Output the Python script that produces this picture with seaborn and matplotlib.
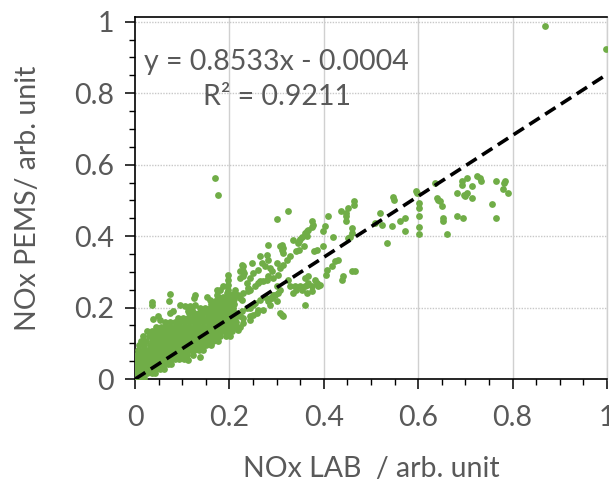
import matplotlib
matplotlib.use("Agg")
import matplotlib.pyplot as plt
from matplotlib.ticker import MultipleLocator
import seaborn as sns
import pandas as pd

# ---- data -------------------------------------------------------------
fit_slope = 0.8533
fit_intercept = -0.0004
fit_x = [0.0, 1.0]

tick_values = [0, 0.2, 0.4, 0.6, 0.8, 1.0]
tick_labels = ["0", "0.2", "0.4", "0.6", "0.8", "1"]

# dense cluster near the origin, read row by row
cluster_row_y = [0.004, 0.016, 0.029, 0.042, 0.055, 0.068, 0.081, 0.094, 0.107,
                 0.120, 0.133, 0.146, 0.159, 0.172, 0.185, 0.198, 0.211, 0.224, 0.237]
cluster_row_x = [
    [0.002, 0.011, 0.019],
    [0.000, 0.008, 0.017, 0.026, 0.035, 0.042],
    [0.003, 0.013, 0.023, 0.033, 0.043, 0.053, 0.061],
    [0.000, 0.009, 0.019, 0.029, 0.039, 0.049, 0.059, 0.069, 0.077],
    [0.004, 0.014, 0.024, 0.034, 0.044, 0.054, 0.064, 0.074, 0.084, 0.094, 0.103],
    [0.002, 0.011, 0.021, 0.031, 0.041, 0.051, 0.061, 0.071, 0.081, 0.091, 0.101, 0.111, 0.122],
    [0.006, 0.016, 0.026, 0.036, 0.046, 0.056, 0.066, 0.076, 0.086, 0.096, 0.106, 0.116, 0.126, 0.136, 0.145],
    [0.008, 0.020, 0.031, 0.041, 0.051, 0.061, 0.071, 0.081, 0.091, 0.101, 0.111, 0.121, 0.131, 0.141, 0.151, 0.161],
    [0.012, 0.024, 0.036, 0.046, 0.056, 0.066, 0.076, 0.086, 0.096, 0.106, 0.116, 0.126, 0.136, 0.146, 0.156, 0.166, 0.176],
    [0.017, 0.029, 0.041, 0.051, 0.061, 0.071, 0.081, 0.091, 0.101, 0.111, 0.121, 0.131, 0.141, 0.151, 0.161, 0.171, 0.181, 0.192, 0.201],
    [0.026, 0.036, 0.046, 0.056, 0.066, 0.076, 0.086, 0.096, 0.106, 0.116, 0.126, 0.136, 0.146, 0.156, 0.166, 0.176, 0.186, 0.196, 0.206],
    [0.045, 0.055, 0.065, 0.075, 0.085, 0.095, 0.105, 0.115, 0.125, 0.135, 0.145, 0.155, 0.165, 0.175, 0.185, 0.195, 0.205],
    [0.064, 0.074, 0.084, 0.094, 0.104, 0.114, 0.124, 0.134, 0.144, 0.154, 0.164, 0.174, 0.184, 0.194, 0.204, 0.213],
    [0.092, 0.102, 0.112, 0.122, 0.132, 0.142, 0.152, 0.162, 0.172, 0.182, 0.192, 0.202, 0.212],
    [0.115, 0.125, 0.135, 0.145, 0.155, 0.165, 0.175, 0.185, 0.195, 0.205, 0.214],
    [0.138, 0.148, 0.158, 0.168, 0.178, 0.188, 0.198, 0.208],
    [0.160, 0.170, 0.180, 0.190, 0.200, 0.210],
    [0.180, 0.190, 0.200, 0.210],
    [0.198, 0.208],
]

# individual scattered points
pts_x = [0.868, 0.997, 0.170, 0.175,
         0.074, 0.071, 0.035, 0.037, 0.095, 0.106, 0.127, 0.124, 0.049, 0.053, 0.039,
         0.074, 0.081, 0.117, 0.120, 0.113, 0.174, 0.174, 0.152, 0.159, 0.187, 0.194,
         0.127, 0.117,
         0.325, 0.300, 0.465, 0.465, 0.452, 0.436, 0.448, 0.448, 0.408, 0.403, 0.399,
         0.376, 0.376, 0.365, 0.364, 0.353, 0.350, 0.347, 0.335,
         0.459, 0.459, 0.456, 0.420, 0.398, 0.385, 0.380, 0.357, 0.348, 0.342,
         0.307, 0.311, 0.314, 0.328, 0.321, 0.314, 0.282,
         0.279, 0.282, 0.275, 0.286, 0.290, 0.282, 0.293, 0.304, 0.307, 0.300,
         0.265, 0.268, 0.261, 0.251, 0.244, 0.237, 0.247, 0.228, 0.229, 0.229, 0.222,
         0.198, 0.198, 0.198, 0.198, 0.212, 0.215, 0.222, 0.208, 0.176, 0.169,
         0.244, 0.254, 0.261, 0.272, 0.300, 0.307, 0.297, 0.290, 0.282,
         0.328, 0.335, 0.342, 0.350, 0.364, 0.374, 0.385, 0.392,
         0.367, 0.360, 0.405, 0.441, 0.438, 0.459, 0.466,
         0.360, 0.307, 0.314, 0.311,
         0.265, 0.251, 0.237, 0.226, 0.215, 0.208, 0.198,
         0.201, 0.215, 0.229, 0.244, 0.258, 0.272, 0.286, 0.300,
         0.447, 0.378, 0.367, 0.360, 0.346, 0.311, 0.314,
         0.180, 0.194, 0.219, 0.229, 0.240, 0.265, 0.279,
         0.325, 0.339, 0.353, 0.360, 0.367, 0.381, 0.388, 0.374, 0.364,
         0.286, 0.293, 0.304, 0.254, 0.275, 0.244, 0.222, 0.208, 0.194,
         0.406, 0.417, 0.424, 0.431,
         0.226, 0.222, 0.230, 0.240, 0.187, 0.191, 0.226, 0.166, 0.173, 0.180,
         0.198, 0.201, 0.229, 0.244, 0.251, 0.261, 0.222, 0.219, 0.187, 0.180,
         0.113, 0.138,
         0.508, 0.519, 0.523, 0.533, 0.544, 0.547, 0.549, 0.561, 0.572, 0.572,
         0.595, 0.597, 0.602, 0.602, 0.602, 0.602, 0.602, 0.636, 0.639, 0.643,
         0.646, 0.650, 0.653, 0.653, 0.662, 0.683, 0.694, 0.683, 0.692, 0.692,
         0.696, 0.699, 0.704, 0.703, 0.715, 0.715, 0.724, 0.731, 0.732, 0.756,
         0.765, 0.765, 0.782, 0.784, 0.780, 0.791, 0.452]
pts_y = [0.987, 0.924, 0.562, 0.516,
         0.238, 0.219, 0.216, 0.207, 0.207, 0.203, 0.235, 0.226, 0.175, 0.165, 0.167,
         0.184, 0.189, 0.203, 0.193, 0.189, 0.249, 0.235, 0.230, 0.221, 0.259, 0.240,
         0.207, 0.198,
         0.471, 0.447, 0.497, 0.487, 0.478, 0.469, 0.455, 0.441, 0.455, 0.429, 0.413,
         0.441, 0.425, 0.413, 0.401, 0.397, 0.391, 0.385, 0.389,
         0.422, 0.408, 0.397, 0.397, 0.371, 0.361, 0.357, 0.371, 0.361, 0.358,
         0.371, 0.361, 0.352, 0.343, 0.333, 0.319, 0.375,
         0.347, 0.333, 0.315, 0.310, 0.301, 0.287, 0.282, 0.291, 0.310, 0.324,
         0.343, 0.324, 0.305, 0.296, 0.282, 0.268, 0.324, 0.317, 0.301, 0.287, 0.284,
         0.291, 0.277, 0.263, 0.249, 0.249, 0.235, 0.226, 0.221, 0.230, 0.217,
         0.249, 0.259, 0.268, 0.273, 0.259, 0.249, 0.235, 0.226, 0.217,
         0.259, 0.240, 0.249, 0.259, 0.263, 0.259, 0.268, 0.263,
         0.287, 0.282, 0.291, 0.287, 0.277, 0.301, 0.303,
         0.207, 0.184, 0.175, 0.179,
         0.221, 0.207, 0.198, 0.189, 0.179, 0.170, 0.161,
         0.137, 0.146, 0.156, 0.175, 0.184, 0.193, 0.207, 0.217,
         0.464, 0.431, 0.417, 0.408, 0.380, 0.375, 0.366,
         0.249, 0.230, 0.235, 0.240, 0.254, 0.273, 0.277,
         0.277, 0.259, 0.249, 0.259, 0.268, 0.277, 0.259, 0.245, 0.240,
         0.226, 0.235, 0.240, 0.212, 0.230, 0.198, 0.175, 0.165, 0.156,
         0.305, 0.315, 0.329, 0.333,
         0.319, 0.301, 0.296, 0.245, 0.230, 0.217, 0.221, 0.203, 0.189, 0.198,
         0.193, 0.179, 0.170, 0.165, 0.179, 0.193, 0.146, 0.137, 0.165, 0.151,
         0.053, 0.062,
         0.436, 0.464, 0.431, 0.382, 0.429, 0.510, 0.501, 0.443, 0.450, 0.415,
         0.525, 0.520, 0.492, 0.478, 0.455, 0.425, 0.406, 0.548, 0.506, 0.501,
         0.497, 0.483, 0.450, 0.441, 0.406, 0.455, 0.450, 0.520, 0.553, 0.543,
         0.515, 0.511, 0.520, 0.562, 0.541, 0.508, 0.567, 0.562, 0.553, 0.490,
         0.555, 0.450, 0.548, 0.553, 0.531, 0.520, 0.394]

# ---- assemble ---------------------------------------------------------
all_x, all_y = [], []
for yv, row in zip(cluster_row_y, cluster_row_x):
    for xv in row:
        all_x.append(xv)
        all_y.append(yv)
all_x += pts_x
all_y += pts_y
df = pd.DataFrame({"lab": all_x, "pems": all_y})
fit_df = pd.DataFrame({"lab": fit_x,
                       "pems": [fit_slope * v + fit_intercept for v in fit_x]})

# ---- plot -------------------------------------------------------------
sns.set_style("ticks")
plt.rcParams["font.family"] = ["Lato", "DejaVu Sans"]
text_gray = "#595959"

fig = plt.figure(figsize=(6.09, 4.83), dpi=100)
ax = fig.add_axes([0.2217, 0.2153, 0.775, 0.7485])

sns.scatterplot(data=df, x="lab", y="pems", ax=ax, color="#70AD47",
                s=24, linewidth=0, zorder=3)
sns.lineplot(data=fit_df, x="lab", y="pems", ax=ax, color="black",
             linewidth=2.6, linestyle=(0, (3.4, 1.8)), zorder=4)

ax.set_xlim(0, 1.0)
ax.set_ylim(0, 1.012)
ax.set_xticks(tick_values)
ax.set_xticklabels(tick_labels)
ax.set_yticks(tick_values)
ax.set_yticklabels(tick_labels)
ax.xaxis.set_minor_locator(MultipleLocator(0.05))
ax.yaxis.set_minor_locator(MultipleLocator(0.05))

ax.grid(False)
for v in tick_values[1:]:
    ax.axvline(v, color="#D0D0D0", linewidth=1.0, zorder=1)
    ax.axhline(v, color="#C8C8C8", linewidth=1.0, linestyle=(0, (1, 1)), zorder=1)

ax.tick_params(axis="both", which="major", direction="out", length=7, width=1.1,
               color="black", labelsize=20.5, labelcolor=text_gray, pad=8)
ax.tick_params(axis="x", which="major", pad=12)
ax.tick_params(axis="both", which="minor", direction="out", length=4, width=1.0,
               color="black")
for side in ["left", "bottom", "top"]:
    ax.spines[side].set_color("black")
    ax.spines[side].set_linewidth(1.2)
ax.spines["right"].set_color("#D0D0D0")
ax.spines["right"].set_linewidth(1.0)

ax.set_xlabel("NOx LAB  / arb. unit", fontsize=20.5, color=text_gray, labelpad=18)
ax.set_ylabel("NOx PEMS/ arb. unit", fontsize=20.5, color=text_gray, labelpad=24)

ax.text(0.30, 0.887, "y = 0.8533x - 0.0004", fontsize=20.5, color=text_gray,
        ha="center", va="center", zorder=5)
ax.text(0.30, 0.790, "R\u00b2 = 0.9211", fontsize=20.5, color=text_gray,
        ha="center", va="center", zorder=5)

fig.savefig("out.png", dpi=100)
